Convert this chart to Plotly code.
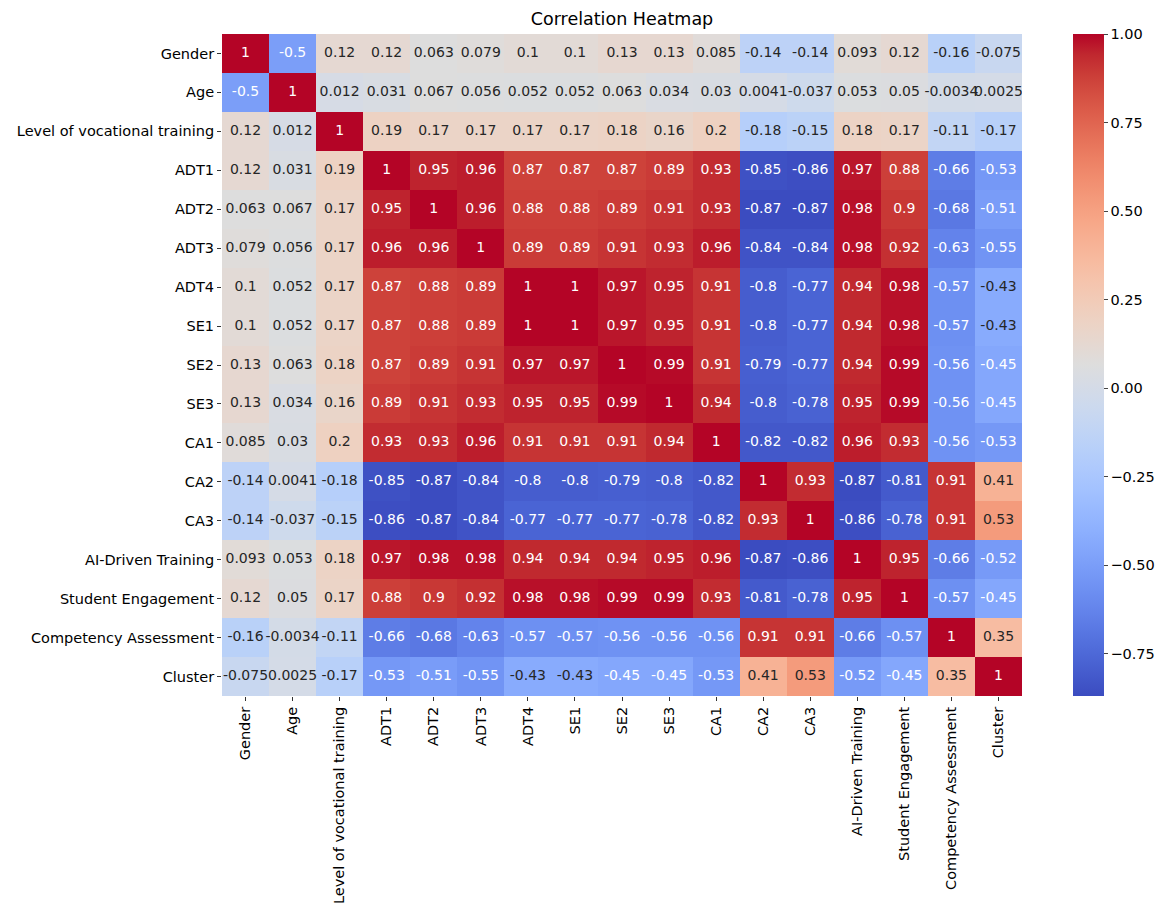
import plotly.graph_objects as go
from plotly.colors import sample_colorscale

labels = ["Gender", "Age", "Level of vocational training", "ADT1", "ADT2", "ADT3", "ADT4",
          "SE1", "SE2", "SE3", "CA1", "CA2", "CA3", "AI-Driven Training",
          "Student Engagement", "Competency Assessment", "Cluster"]

gender = [1, -0.5, 0.12, 0.12, 0.063, 0.079, 0.1, 0.1, 0.13, 0.13, 0.085, -0.14, -0.14, 0.093, 0.12, -0.16, -0.075]
age = [-0.5, 1, 0.012, 0.031, 0.067, 0.056, 0.052, 0.052, 0.063, 0.034, 0.03, 0.0041, -0.037, 0.053, 0.05, -0.0034, 0.0025]
level = [0.12, 0.012, 1, 0.19, 0.17, 0.17, 0.17, 0.17, 0.18, 0.16, 0.2, -0.18, -0.15, 0.18, 0.17, -0.11, -0.17]
adt1 = [0.12, 0.031, 0.19, 1, 0.95, 0.96, 0.87, 0.87, 0.87, 0.89, 0.93, -0.85, -0.86, 0.97, 0.88, -0.66, -0.53]
adt2 = [0.063, 0.067, 0.17, 0.95, 1, 0.96, 0.88, 0.88, 0.89, 0.91, 0.93, -0.87, -0.87, 0.98, 0.9, -0.68, -0.51]
adt3 = [0.079, 0.056, 0.17, 0.96, 0.96, 1, 0.89, 0.89, 0.91, 0.93, 0.96, -0.84, -0.84, 0.98, 0.92, -0.63, -0.55]
adt4 = [0.1, 0.052, 0.17, 0.87, 0.88, 0.89, 1, 1, 0.97, 0.95, 0.91, -0.8, -0.77, 0.94, 0.98, -0.57, -0.43]
se1 = [0.1, 0.052, 0.17, 0.87, 0.88, 0.89, 1, 1, 0.97, 0.95, 0.91, -0.8, -0.77, 0.94, 0.98, -0.57, -0.43]
se2 = [0.13, 0.063, 0.18, 0.87, 0.89, 0.91, 0.97, 0.97, 1, 0.99, 0.91, -0.79, -0.77, 0.94, 0.99, -0.56, -0.45]
se3 = [0.13, 0.034, 0.16, 0.89, 0.91, 0.93, 0.95, 0.95, 0.99, 1, 0.94, -0.8, -0.78, 0.95, 0.99, -0.56, -0.45]
ca1 = [0.085, 0.03, 0.2, 0.93, 0.93, 0.96, 0.91, 0.91, 0.91, 0.94, 1, -0.82, -0.82, 0.96, 0.93, -0.56, -0.53]
ca2 = [-0.14, 0.0041, -0.18, -0.85, -0.87, -0.84, -0.8, -0.8, -0.79, -0.8, -0.82, 1, 0.93, -0.87, -0.81, 0.91, 0.41]
ca3 = [-0.14, -0.037, -0.15, -0.86, -0.87, -0.84, -0.77, -0.77, -0.77, -0.78, -0.82, 0.93, 1, -0.86, -0.78, 0.91, 0.53]
ai_training = [0.093, 0.053, 0.18, 0.97, 0.98, 0.98, 0.94, 0.94, 0.94, 0.95, 0.96, -0.87, -0.86, 1, 0.95, -0.66, -0.52]
engagement = [0.12, 0.05, 0.17, 0.88, 0.9, 0.92, 0.98, 0.98, 0.99, 0.99, 0.93, -0.81, -0.78, 0.95, 1, -0.57, -0.45]
competency = [-0.16, -0.0034, -0.11, -0.66, -0.68, -0.63, -0.57, -0.57, -0.56, -0.56, -0.56, 0.91, 0.91, -0.66, -0.57, 1, 0.35]
cluster = [-0.075, 0.0025, -0.17, -0.53, -0.51, -0.55, -0.43, -0.43, -0.45, -0.45, -0.53, 0.41, 0.53, -0.52, -0.45, 0.35, 1]

z = [gender, age, level, adt1, adt2, adt3, adt4, se1, se2, se3, ca1, ca2, ca3,
     ai_training, engagement, competency, cluster]

# matplotlib "coolwarm"
cw = [(59, 76, 192), (68, 90, 204), (77, 104, 215), (87, 117, 225), (98, 130, 234),
      (108, 142, 241), (119, 154, 247), (130, 165, 251), (141, 176, 254), (152, 185, 255),
      (163, 194, 255), (174, 201, 253), (184, 208, 249), (194, 213, 244), (204, 217, 238),
      (213, 219, 230), (221, 221, 221), (229, 216, 209), (236, 211, 197), (241, 204, 185),
      (245, 196, 173), (247, 187, 160), (247, 177, 148), (247, 166, 135), (244, 154, 123),
      (241, 141, 111), (236, 127, 99), (229, 112, 88), (222, 96, 77), (213, 80, 66),
      (203, 62, 56), (192, 40, 47), (180, 4, 38)]
colorscale = [[i / (len(cw) - 1), "rgb(%d,%d,%d)" % c] for i, c in enumerate(cw)]

zmin = min(min(r) for r in z)
zmax = max(max(r) for r in z)


def lum(rgb):
    vals = []
    for c in rgb:
        c = c / 255
        vals.append(c / 12.92 if c <= 0.03928 else ((c + 0.055) / 1.055) ** 2.4)
    return 0.2126 * vals[0] + 0.7152 * vals[1] + 0.0722 * vals[2]


xs, ys, txt, cols = [], [], [], []
for i, row in enumerate(z):
    for j, v in enumerate(row):
        xs.append(labels[j])
        ys.append(labels[i])
        txt.append("{:.2g}".format(v))
        c = sample_colorscale(colorscale, [(v - zmin) / (zmax - zmin)], colortype="tuple")[0]
        rgb = [x * 255 if max(c) <= 1 else x for x in c]
        cols.append("#262626" if lum(rgb) > 0.408 else "white")

n = len(labels)
fig = go.Figure()
fig.add_trace(go.Heatmap(
    z=z, x=labels, y=labels, colorscale=colorscale, zmin=zmin, zmax=zmax,
    colorbar=dict(thickness=31, len=1.0, lenmode="fraction", y=0.5, yanchor="middle",
                  x=1.0635, xanchor="left", xpad=0, ypad=0, outlinewidth=0,
                  tickvals=[-0.75, -0.5, -0.25, 0, 0.25, 0.5, 0.75, 1.0],
                  tickformat=".2f", ticks="outside", ticklen=4,
                  tickfont=dict(size=14.5, color="black")),
))
fig.add_trace(go.Scatter(
    x=xs, y=ys, mode="text", text=txt,
    textfont=dict(size=14, color=cols, family="DejaVu Sans"),
    hoverinfo="skip", showlegend=False,
))

fig.update_layout(
    width=1170, height=919,
    margin=dict(l=214, r=156, t=26, b=231),
    plot_bgcolor="white", paper_bgcolor="white",
    font=dict(family="DejaVu Sans", size=14.5, color="black"),
    title=dict(text="Correlation Heatmap", x=0.5, xref="paper", y=0.9886, yanchor="middle",
               font=dict(size=17.5, color="black")),
)
fig.update_xaxes(tickangle=-90, ticks="outside", ticklen=4, tickcolor="#333",
                 range=[-0.5, n - 0.5],
                 showgrid=False, zeroline=False, showline=False, automargin=False)
fig.update_yaxes(range=[n - 0.5, -0.5], ticks="outside", ticklen=4, tickcolor="#333",
                 showgrid=False, zeroline=False, showline=False, automargin=False)

fig.write_html("out.html")
